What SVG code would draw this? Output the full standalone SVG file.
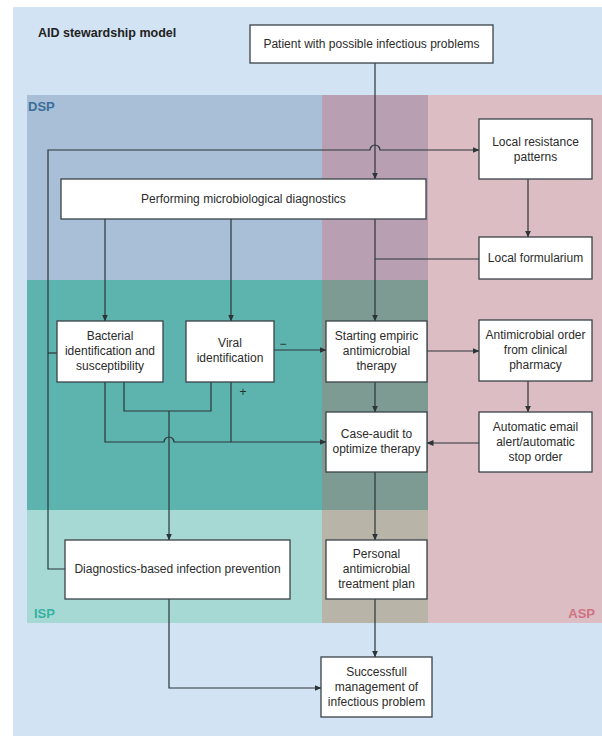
<svg xmlns="http://www.w3.org/2000/svg" width="602" height="736" viewBox="0 0 602 736">
  <defs>
    <marker id="arr" markerUnits="userSpaceOnUse" markerWidth="7" markerHeight="6" refX="6.5" refY="3" orient="auto">
      <path d="M0,0 L7,3 L0,6 z" fill="#2c3438"/>
    </marker>
    <style>
      .box { fill: #ffffff; stroke: #3a4347; stroke-width: 1.3; }
      .lbl { font-family: "Liberation Sans", Arial, sans-serif; font-size: 12px; fill: #2b2b2b; text-anchor: middle; }
      .zone { font-family: "Liberation Sans", Arial, sans-serif; font-size: 13px; font-weight: bold; }
      .wire { fill: none; stroke: #2c3438; stroke-width: 1.2; }
      .to { marker-end: url(#arr); }
    </style>
  </defs>

  <!-- page and programme zones -->
  <rect x="0" y="0" width="602" height="736" fill="#ffffff"/>
  <rect x="13" y="7" width="589" height="729" fill="#d2e3f3"/>
  <rect x="27" y="95" width="295" height="185" fill="#a8bfd7"/>
  <rect x="27" y="280" width="295" height="230" fill="#5db4ae"/>
  <rect x="27" y="510" width="295" height="113" fill="#a7d9d4"/>
  <rect x="322" y="95" width="106" height="185" fill="#b8a0b2"/>
  <rect x="322" y="280" width="106" height="230" fill="#7d9a93"/>
  <rect x="322" y="510" width="106" height="113" fill="#b8b4a8"/>
  <rect x="428" y="95" width="174" height="528" fill="#dbbdc3"/>

  <text x="38" y="37" font-family="Liberation Sans, Arial, sans-serif" font-size="12.5" font-weight="bold" fill="#222">AID stewardship model</text>
  <text class="zone" x="28" y="111" fill="#3b6e99">DSP</text>
  <text class="zone" x="34" y="618" fill="#33b3a2">ISP</text>
  <text class="zone" x="595" y="618" fill="#d07282" text-anchor="end">ASP</text>

  <!-- connectors -->
  <g id="connectors">
    <path class="wire to" d="M375,63 V179"/>
    <path class="wire to" d="M65,569 H48 V150 H370 a5,5 0 0 1 10,0 H479"/>
    <path class="wire" d="M57,353 H48"/>
    <path class="wire to" d="M105,219 V321"/>
    <path class="wire to" d="M231,219 V321"/>
    <path class="wire to" d="M375,219 V321"/>
    <path class="wire to" d="M528,179 V237"/>
    <path class="wire" d="M479,259 H375"/>
    <path class="wire to" d="M274,350 H326"/>
    <path class="wire to" d="M427,351 H479"/>
    <path class="wire to" d="M528,381 V412"/>
    <path class="wire to" d="M479,443 H427"/>
    <path class="wire to" d="M375,382 V412"/>
    <path class="wire to" d="M105,382 V442 H164 a5,5 0 0 1 10,0 H326"/>
    <path class="wire" d="M231,382 V442"/>
    <path class="wire" d="M124,382 V411 H211 V382"/>
    <path class="wire to" d="M169,411 V540"/>
    <path class="wire to" d="M375,472 V540"/>
    <path class="wire to" d="M375,599 V657"/>
    <path class="wire to" d="M169,599 V688 H321"/>
    <text class="lbl" x="283" y="348">−</text>
    <text class="lbl" x="243" y="396">+</text>
  </g>

  <g id="patient">
    <rect class="box" x="250" y="25" width="243" height="38"/>
    <text class="lbl" x="371.5" y="48">Patient with possible infectious problems</text>
  </g>
  <g id="resistance">
    <rect class="box" x="479" y="119" width="113" height="60"/>
    <text class="lbl" x="535.5" y="146">Local resistance</text>
    <text class="lbl" x="535.5" y="161">patterns</text>
  </g>
  <g id="diagnostics">
    <rect class="box" x="61" y="179" width="365" height="40"/>
    <text class="lbl" x="243.5" y="203">Performing microbiological diagnostics</text>
  </g>
  <g id="formularium">
    <rect class="box" x="479" y="237" width="113" height="42"/>
    <text class="lbl" x="535.5" y="262">Local formularium</text>
  </g>
  <g id="bacterial">
    <rect class="box" x="57" y="321" width="106" height="61"/>
    <text class="lbl" x="110" y="340">Bacterial</text>
    <text class="lbl" x="110" y="355">identification and</text>
    <text class="lbl" x="110" y="370">susceptibility</text>
  </g>
  <g id="viral">
    <rect class="box" x="186" y="321" width="88" height="61"/>
    <text class="lbl" x="230" y="347">Viral</text>
    <text class="lbl" x="230" y="362">identification</text>
  </g>
  <g id="empiric">
    <rect class="box" x="326" y="321" width="101" height="61"/>
    <text class="lbl" x="376.5" y="340">Starting empiric</text>
    <text class="lbl" x="376.5" y="355">antimicrobial</text>
    <text class="lbl" x="376.5" y="370">therapy</text>
  </g>
  <g id="order">
    <rect class="box" x="479" y="320" width="113" height="61"/>
    <text class="lbl" x="535.5" y="339">Antimicrobial order</text>
    <text class="lbl" x="535.5" y="354">from clinical</text>
    <text class="lbl" x="535.5" y="369">pharmacy</text>
  </g>
  <g id="audit">
    <rect class="box" x="326" y="412" width="101" height="60"/>
    <text class="lbl" x="376.5" y="438">Case-audit to</text>
    <text class="lbl" x="376.5" y="453">optimize therapy</text>
  </g>
  <g id="alert">
    <rect class="box" x="479" y="412" width="113" height="60"/>
    <text class="lbl" x="535.5" y="431">Automatic email</text>
    <text class="lbl" x="535.5" y="446">alert/automatic</text>
    <text class="lbl" x="535.5" y="461">stop order</text>
  </g>
  <g id="prevention">
    <rect class="box" x="65" y="540" width="225" height="59"/>
    <text class="lbl" x="177.5" y="573">Diagnostics-based infection prevention</text>
  </g>
  <g id="plan">
    <rect class="box" x="326" y="540" width="101" height="59"/>
    <text class="lbl" x="376.5" y="558">Personal</text>
    <text class="lbl" x="376.5" y="573">antimicrobial</text>
    <text class="lbl" x="376.5" y="588">treatment plan</text>
  </g>
  <g id="outcome">
    <rect class="box" x="321" y="657" width="111" height="60"/>
    <text class="lbl" x="376.5" y="676">Successfull</text>
    <text class="lbl" x="376.5" y="691">management of</text>
    <text class="lbl" x="376.5" y="706">infectious problem</text>
  </g>
</svg>
